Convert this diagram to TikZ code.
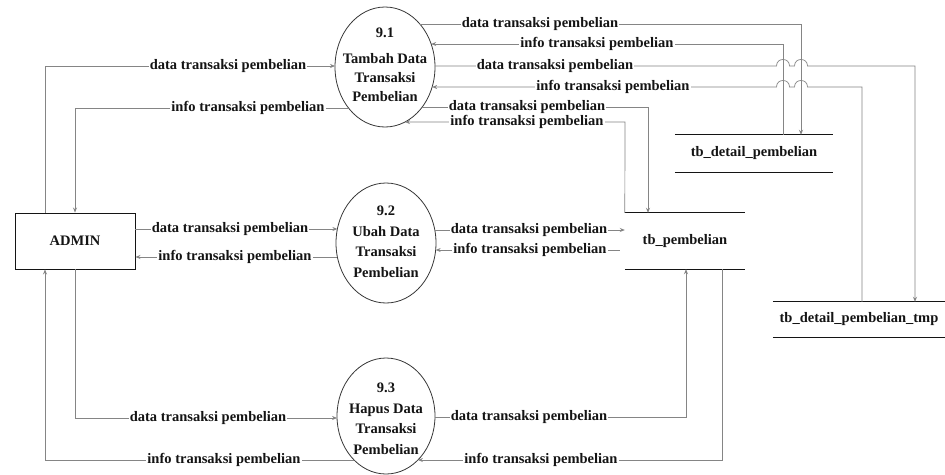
\documentclass[tikz,border=0pt]{standalone}
\usepackage{fontspec}
\setmainfont{Liberation Serif}
\usetikzlibrary{calc,arrows.meta}
\definecolor{linegray}{HTML}{858585}
\definecolor{inkc}{HTML}{141414}
\newcommand\eptc[5]{\coordinate (#1) at ($(#2)+({#3*sqrt(1-(#5)*(#5)/((#4)*(#4)))},#5)$);}
\begin{document}
\begin{tikzpicture}[x=1pt,y=-1pt,
  flow/.style={draw=linegray, line width=0.7pt},
  arr/.style={flow, -{Stealth[length=5pt,width=4pt]}},
  lbl/.style={fill=white, inner xsep=1pt, inner ysep=0.5pt, text=inkc,
              font=\fontsize{14.5}{15}\selectfont\bfseries},
  proctext/.style={align=center, inner sep=0pt, text=inkc,
              font=\fontsize{14.5}{20.5}\selectfont\bfseries},
  ell/.style={draw=inkc!85, line width=0.8pt},
  box/.style={draw=inkc, line width=0.9pt, minimum width=120pt, minimum height=56pt,
              inner sep=0pt, text=inkc, font=\fontsize{14.5}{15}\selectfont\bfseries},
  store/.style={inner sep=0pt, text=inkc, font=\fontsize{14.5}{15}\selectfont\bfseries},
  storeline/.style={draw=inkc, line width=1pt}
]
\fill[white] (0,0) rectangle (945,474);
\useasboundingbox (0,0) rectangle (945,474);

% ---------- ellipses (processes)
\coordinate (e1) at (385,67);
\coordinate (e2) at (386,243);
\coordinate (e3) at (386,416);
\draw[ell] (e1) ellipse [x radius=50pt, y radius=60pt];
\draw[ell] (e2) ellipse [x radius=50pt, y radius=60pt];
\draw[ell] (e3) ellipse [x radius=49pt, y radius=58pt];
\node[proctext] (t1) at (385,65) {9.1\\[5pt]Tambah Data\\[-1.5pt]Transaksi\\[-1.5pt]Pembelian};
\node[proctext] (t2) at (386,242) {9.2\\Ubah Data\\Transaksi\\Pembelian};
\node[proctext] (t3) at (386,419) {9.3\\Hapus Data\\Transaksi\\Pembelian};

% ---------- external entity and data stores
\node[box] (admin) at (75,241) {ADMIN};
\node[store, minimum width=120pt, minimum height=56pt] (tbp) at (685,241) {tb\_pembelian};
\node[store, minimum width=158pt, minimum height=37pt] (tdp) at (754,153.5) {tb\_detail\_pembelian};
\node[store, minimum width=172pt, minimum height=35pt] (tdpt) at (859,319.5) {tb\_detail\_pembelian\_tmp};
\foreach \s in {tbp,tdp,tdpt}{
  \draw[storeline] (\s.north west) -- (\s.north east);
  \draw[storeline] (\s.south west) -- (\s.south east);
}

% ---------- boundary points on the ellipses
\eptc{p1}{e1}{50}{60}{-43}   % y=24
\eptc{p2}{e1}{50}{60}{-23}   % y=44
\eptc{p3}{e1}{50}{60}{-1}    % y=66
\eptc{p4}{e1}{50}{60}{20}    % y=87
\eptc{p5}{e1}{50}{60}{40}    % y=107
\eptc{p6}{e1}{50}{60}{55}    % y=122
\eptc{q1}{e1}{-50}{60}{-1}   % y=66 left
\eptc{q2}{e1}{-50}{60}{41}   % y=108 left
\eptc{r1}{e2}{-50}{60}{-14}  % y=229 left
\eptc{r2}{e2}{-50}{60}{14}   % y=257 left
\eptc{r3}{e2}{50}{60}{-13}   % y=230 right
\eptc{r4}{e2}{50}{60}{7}     % y=250 right
\eptc{s1}{e3}{-49}{58}{2}    % y=418 left
\eptc{s2}{e3}{-49}{58}{44}   % y=460 left
\eptc{s3}{e3}{49}{58}{1}     % y=417 right
\eptc{s4}{e3}{49}{58}{44}    % y=460 right

% ---------- ADMIN <-> processes
\draw[arr] (admin.north -| 45,0) -- (45,66) -- (q1);
\draw[arr] (q2) -- (75,108) -- (admin.north -| 75,0);
\draw[arr] (admin.east |- 0,229) -- (r1);
\draw[arr] (r2) -- (admin.east |- 0,257);
\draw[arr] (admin.south -| 75,0) -- (75,418) -- (s1);
\draw[arr] (s2) -- (45,460) -- (admin.south -| 45,0);

% ---------- 9.2 <-> tb_pembelian
\draw[arr] (r3) -- (tbp.west |- 0,230);
\draw[arr] ($(tbp.west |- 0,250)+(-5,0)$) -- (r4);

% ---------- 9.3 <-> tb_pembelian
\draw[arr] (s3) -- (686,417) -- (tbp.south -| 686,0);
\draw[arr] (tbp.south -| 722,0) -- (722,460) -- (s4);

% ---------- 9.1 <-> tb_pembelian
\draw[arr] (p5) -- (648,107) -- (tbp.north -| 648,0);
\draw[arr] (tbp.north west) -- (625,122) -- (p6);

% ---------- 9.1 <-> tb_detail_pembelian
\draw[arr] (p1) -- (801,24) -- (tdp.north -| 801,0);
\draw[arr] (tdp.north -| 783,0) -- (783,44) -- (p2);

% ---------- 9.1 <-> tb_detail_pembelian_tmp (with line jumps)
\draw[arr] (p3) -- (776.5,66) .. controls +(0,-8.7) and +(0,-8.7) .. (789.5,66)
  -- (794.5,66) .. controls +(0,-8.7) and +(0,-8.7) .. (807.5,66)
  -- (915,66) -- (tdpt.north -| 915,0);
\draw[arr] (tdpt.north -| 862,0) -- (862,87) -- (807.5,87)
  .. controls +(0,-8.7) and +(0,-8.7) .. (794.5,87) -- (789.5,87)
  .. controls +(0,-8.7) and +(0,-8.7) .. (776.5,87) -- (p4);

% ---------- labels
\node[lbl] (l1) at (228,66) {data transaksi pembelian};
\node[lbl] (l2) at (248,108) {info transaksi pembelian};
\node[lbl] (l3) at (230,229) {data transaksi pembelian};
\node[lbl] (l4) at (235,257) {info transaksi pembelian};
\node[lbl] (l5) at (208,418) {data transaksi pembelian};
\node[lbl] (l6) at (224,460) {info transaksi pembelian};
\node[lbl] (l7) at (529,230) {data transaksi pembelian};
\node[lbl] (l8) at (530,250) {info transaksi pembelian};
\node[lbl] (l9) at (529,417) {data transaksi pembelian};
\node[lbl] (l10) at (541,460) {info transaksi pembelian};
\node[lbl] (l11) at (527,107) {data transaksi pembelian};
\node[lbl] (l12) at (527,122) {info transaksi pembelian};
\node[lbl] (l13) at (540,24) {data transaksi pembelian};
\node[lbl] (l14) at (597,44) {info transaksi pembelian};
\node[lbl] (l15) at (555,66) {data transaksi pembelian};
\node[lbl] (l16) at (613,87) {info transaksi pembelian};
\end{tikzpicture}
\end{document}
